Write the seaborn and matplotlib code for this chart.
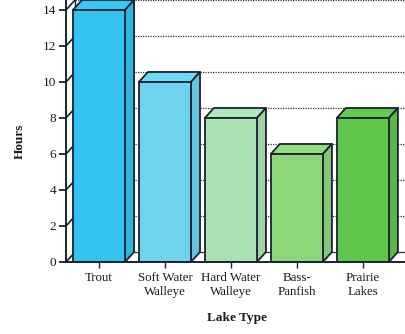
import matplotlib
matplotlib.use("Agg")
import matplotlib.pyplot as plt
import seaborn as sns
from matplotlib.patches import Polygon
from matplotlib.colors import to_rgb

# Hours by lake type
lake_types = ["Trout", "Soft Water\nWalleye", "Hard Water\nWalleye", "Bass-\nPanfish", "Prairie\nLakes"]
hours = [14, 10, 8, 6, 8]
bar_colors = ["#33c3ef", "#6fd3ee", "#aae2b6", "#8fd67d", "#5ec64b"]
y_ticks = [0, 2, 4, 6, 8, 10, 12, 14]

sns.set_theme(style="white")
plt.rcParams["font.family"] = ["Liberation Serif", "DejaVu Serif"]

W, H = 405, 334
fig = plt.figure(figsize=(W / 100, H / 100), dpi=100)
ax = fig.add_axes([66 / W, 72 / H, 1 - 66 / W, 262 / H])

EDGE = "#1b2130"
sns.barplot(x=lake_types, y=hours, hue=lake_types, palette=bar_colors,
            width=0.79, saturation=1, edgecolor=EDGE, linewidth=1.3,
            legend=False, ax=ax, zorder=3)

xmin, xmax = -0.5, 4.64
ax.set_xlim(xmin, xmax)
ax.set_ylim(0, 262 / 18)

# oblique depth offset for the 3-D look
dx, dy = 0.137, 0.556

# back wall gridlines
for v in y_ticks:
    style = "-" if v == 0 else (0, (1, 1))
    ax.plot([xmin + dx, xmax + 1], [v + dy, v + dy], color="#333333",
            lw=0.9, ls=style, zorder=1, clip_on=True)
# left wall: back edge and diagonal gridlines
ax.plot([xmin + dx, xmin + dx], [dy, 14 + dy], color=EDGE, lw=1.0, zorder=1)
for v in y_ticks:
    ax.plot([xmin, xmin + dx], [v, v + dy], color=EDGE, lw=1.2, zorder=1)

# top and side faces of every bar
for p in list(ax.patches):
    x0, w, h = p.get_x(), p.get_width(), p.get_height()
    rgb = to_rgb(p.get_facecolor())
    side_c = tuple(c * 0.93 for c in rgb)
    top_c = tuple(min(1, c * 1.03) for c in rgb)
    top = Polygon([(x0, h), (x0 + w, h), (x0 + w + dx, h + dy), (x0 + dx, h + dy)],
                  closed=True, facecolor=top_c, edgecolor=EDGE, lw=1.3, zorder=2.9,
                  joinstyle="round")
    side = Polygon([(x0 + w, 0), (x0 + w + dx, dy), (x0 + w + dx, h + dy), (x0 + w, h)],
                   closed=True, facecolor=side_c, edgecolor=EDGE, lw=1.3, zorder=2.9,
                   joinstyle="round")
    ax.add_patch(top)
    ax.add_patch(side)

for s in ["top", "right"]:
    ax.spines[s].set_visible(False)
for s in ["left", "bottom"]:
    ax.spines[s].set_color(EDGE)
    ax.spines[s].set_linewidth(1.4)
    ax.spines[s].set_zorder(4)

ax.set_yticks(y_ticks)
ax.tick_params(axis="y", left=True, direction="out", length=5, width=1.3,
               color=EDGE, pad=2, labelsize=9.5, labelcolor="#1a1a1a")
ax.tick_params(axis="x", bottom=True, direction="out", length=4, width=1.0,
               color=EDGE, pad=3, labelsize=9.3, labelcolor="#1a1a1a")
for t in ax.get_xticklabels():
    t.set_linespacing(1.2)

ax.set_xlabel("Lake Type", fontsize=9.5, fontweight="bold", color="#1a1a1a")
ax.set_ylabel("Hours", fontsize=9.5, fontweight="bold", color="#1a1a1a")
ax.xaxis.set_label_coords(0.504, -0.19)
ax.yaxis.set_label_coords(-0.12, 0.462)

ax.set_facecolor("white")
fig.savefig("out.png", dpi=100)
